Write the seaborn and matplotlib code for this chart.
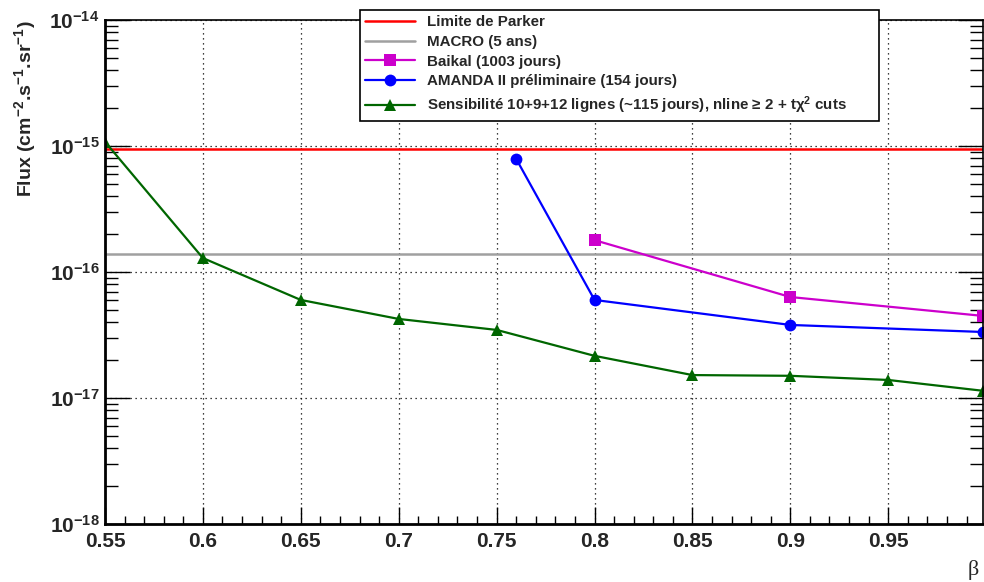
import numpy as np
import pandas as pd
import matplotlib
matplotlib.use("Agg")
import matplotlib.pyplot as plt
import seaborn as sns
from matplotlib.ticker import LogLocator, FixedLocator, MultipleLocator, FuncFormatter, NullFormatter

# --- data ---
parker_flux = 0.95e-15
macro_flux = 1.39e-16

beta_sens = [0.55, 0.60, 0.65, 0.70, 0.75, 0.80, 0.85, 0.90, 0.95, 0.9985]
flux_sens = [1.08e-15, 1.29e-16, 6.0e-17, 4.24e-17, 3.47e-17, 2.16e-17, 1.52e-17, 1.50e-17, 1.39e-17, 1.14e-17]

beta_amanda = [0.76, 0.80, 0.90, 0.9985]
flux_amanda = [7.9e-16, 6.0e-17, 3.8e-17, 3.34e-17]

beta_baikal = [0.80, 0.90, 0.9985]
flux_baikal = [1.79e-16, 6.33e-17, 4.48e-17]

xticks = [0.55, 0.6, 0.65, 0.7, 0.75, 0.8, 0.85, 0.9, 0.95]
xtick_labels = ["0.55", "0.6", "0.65", "0.7", "0.75", "0.8", "0.85", "0.9", "0.95"]
ydecades = [-18, -17, -16, -15, -14]

sns.set_theme(style="white")
plt.rcParams['font.family'] = ['Liberation Sans', 'DejaVu Sans']
plt.rcParams['mathtext.fontset'] = 'custom'
plt.rcParams['mathtext.rm'] = 'Liberation Sans:bold'
plt.rcParams['mathtext.bf'] = 'Liberation Sans:bold'
plt.rcParams['mathtext.it'] = 'Liberation Sans:bold:italic'

fig = plt.figure(figsize=(9.84, 5.82), dpi=100)
ax = fig.add_axes([0.1067, 0.0997, 0.8925, 0.8659])

ax.axhline(parker_flux, color='#ff0000', lw=1.8, label='Limite de Parker')
ax.axhline(macro_flux, color='#a0a0a0', lw=1.8, label='MACRO (5 ans)')

df_baikal = pd.DataFrame({'beta': beta_baikal, 'flux': flux_baikal})
df_amanda = pd.DataFrame({'beta': beta_amanda, 'flux': flux_amanda})
df_sens = pd.DataFrame({'beta': beta_sens, 'flux': flux_sens})

sns.lineplot(data=df_baikal, x='beta', y='flux', ax=ax, color='#cc00cc', lw=1.6,
             marker='s', markersize=8, markeredgewidth=0, label='Baikal (1003 jours)')
sns.lineplot(data=df_amanda, x='beta', y='flux', ax=ax, color='#0000ff', lw=1.6,
             marker='o', markersize=8.5, markeredgewidth=0, label='AMANDA II préliminaire (154 jours)')
sns.lineplot(data=df_sens, x='beta', y='flux', ax=ax, color='#006600', lw=1.6,
             marker='^', markersize=8, markeredgewidth=0,
             label='Sensibilité 10+9+12 lignes (~115 jours), nline ≥ 2 + tχ$^2$ cuts')

ax.set_yscale('log')
ax.set_xlim(0.55, 0.9985)
ax.set_ylim(1e-18, 1e-14)

ax.xaxis.set_major_locator(FixedLocator(xticks))
ax.set_xticklabels(xtick_labels)
ax.xaxis.set_minor_locator(MultipleLocator(0.01))
ax.yaxis.set_major_locator(FixedLocator([10.0 ** d for d in ydecades]))
ax.yaxis.set_minor_locator(LogLocator(base=10, subs=np.arange(2, 10), numticks=20))
ax.yaxis.set_minor_formatter(NullFormatter())
ax.yaxis.set_major_formatter(FuncFormatter(lambda v, p: r'$\mathbf{10^{%d}}$' % int(round(np.log10(v)))))

ax.tick_params(axis='both', which='both', direction='in', top=False, right=True,
               bottom=True, left=True, color='black')
ax.tick_params(axis='x', which='major', length=12, width=1, labelsize=15, pad=6)
ax.tick_params(axis='x', which='minor', length=6, width=1)
ax.tick_params(axis='y', which='major', length=18, width=1, labelsize=15, pad=4)
ax.tick_params(axis='y', which='minor', length=9.5, width=1)
for lab in ax.get_xticklabels():
    lab.set_fontweight('bold')

ax.grid(True, which='major', color='black', lw=0.9, linestyle=(0, (1, 3)))
for s in ax.spines.values():
    s.set_color('black')
    s.set_linewidth(1.2)
ax.spines['bottom'].set_linewidth(2)
ax.spines['left'].set_linewidth(2)

ax.set_xlabel('')
ax.set_ylabel(r'Flux (cm$^{-2}$.s$^{-1}$.sr$^{-1}$)', fontsize=14, fontweight='bold',
              labelpad=8, loc='top')
fig.text(0.995, 0.003, 'β', fontsize=16, ha='right', va='bottom', family=['Liberation Serif'])

leg = ax.legend(loc='upper left', bbox_to_anchor=(0.29, 0.80, 0.5915, 0.22), mode='expand',
                ncol=1, borderaxespad=0,
                frameon=True, fancybox=False, framealpha=1, edgecolor='black',
                handlelength=3.3, handletextpad=0.8, borderpad=0.35, labelspacing=0.38,
                prop={'weight': 'bold', 'size': 10.9})
leg.get_frame().set_linewidth(1.2)
leg.set_zorder(10)

fig.savefig('out.png', dpi=100)
